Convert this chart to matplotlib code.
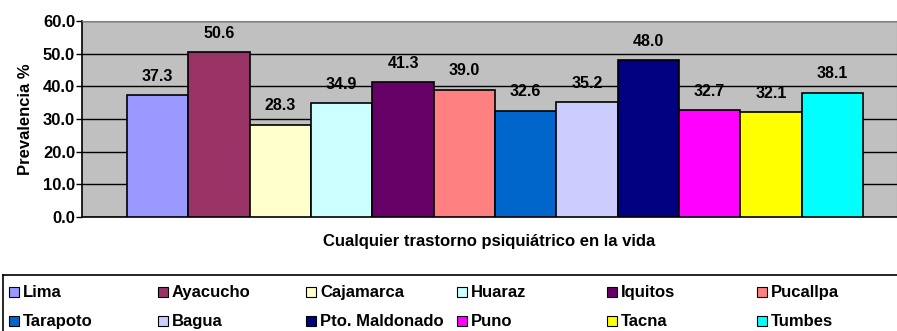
import matplotlib.pyplot as plt
from matplotlib.patches import Rectangle

plt.rcParams['font.family'] = ['Liberation Sans', 'DejaVu Sans']
plt.rcParams['font.weight'] = 'bold'

# Prevalencia de vida por ciudad
ciudades = ['Lima', 'Ayacucho', 'Cajamarca', 'Huaraz', 'Iquitos', 'Pucallpa',
            'Tarapoto', 'Bagua', 'Pto. Maldonado', 'Puno', 'Tacna', 'Tumbes']
prevalencia = [37.3, 50.6, 28.3, 34.9, 41.3, 39.0, 32.6, 35.2, 48.0, 32.7, 32.1, 38.1]
colores = ['#9999FF', '#993366', '#FFFFCC', '#CCFFFF', '#660066', '#FF8080',
           '#0066CC', '#CCCCFF', '#000080', '#FF00FF', '#FFFF00', '#00FFFF']
yticks = [0, 10, 20, 30, 40, 50, 60]

W, H = 897, 331
fs = 12
fig = plt.figure(figsize=(W / 100, H / 100), dpi=100)

def px_axes(x0, y0, x1, y1):
    # pixel box (top-left origin) -> figure axes
    return fig.add_axes([x0 / W, 1 - y1 / H, (x1 - x0) / W, (y1 - y0) / H])

ax = px_axes(82, 21, 897, 217)
ax.set_facecolor('#C0C0C0')
x = list(range(len(ciudades)))
bars = ax.bar(x, prevalencia, width=1.0, color=colores, edgecolor='black',
              linewidth=1.2, zorder=3)
for b, v in zip(bars, prevalencia):
    ax.annotate(f'{v:.1f}', (b.get_x() + b.get_width() / 2, v),
                xytext=(0, 8), textcoords='offset points',
                ha='center', va='bottom', fontsize=11.5, fontweight='bold')

ax.set_xlim(-1.234, 12.054)
ax.set_ylim(0, 60)
ax.set_yticks(yticks)
ax.set_yticklabels([f'{t:.1f}' for t in yticks], fontsize=fs, fontweight='bold')
ax.set_xticks([])
ax.tick_params(axis='y', length=4, width=1, pad=1)
ax.yaxis.grid(True, color='black', linewidth=1)
ax.set_axisbelow(True)
ax.spines['top'].set_color('#808080')
ax.spines['right'].set_color('#808080')
ax.spines['left'].set_linewidth(1.2)
ax.spines['bottom'].set_linewidth(1.2)
ax.set_ylabel('Prevalencia %', fontsize=fs, fontweight='bold', labelpad=7)
ax.set_xlabel('Cualquier trastorno psiquiátrico en la vida', fontsize=fs,
              fontweight='bold', labelpad=12)

# Legend box with 2 rows x 6 columns
lg = px_axes(3, 275, 898, 340)
lg.set_xlim(0, 895)
lg.set_ylim(65, 0)
lg.set_xticks([])
lg.set_yticks([])
for s in lg.spines.values():
    s.set_linewidth(1.2)
col_x = [6, 155, 303, 454, 604, 754]
row_y = [17, 46]
for i, (nombre, c) in enumerate(zip(ciudades, colores)):
    cx = col_x[i % 6]
    cy = row_y[i // 6]
    lg.add_patch(Rectangle((cx, cy - 5), 10, 10, facecolor=c,
                           edgecolor='black', linewidth=0.8))
    lg.text(cx + 14, cy, nombre, va='center', ha='left', fontsize=fs,
            fontweight='bold')

fig.savefig('out.png', dpi=100)
